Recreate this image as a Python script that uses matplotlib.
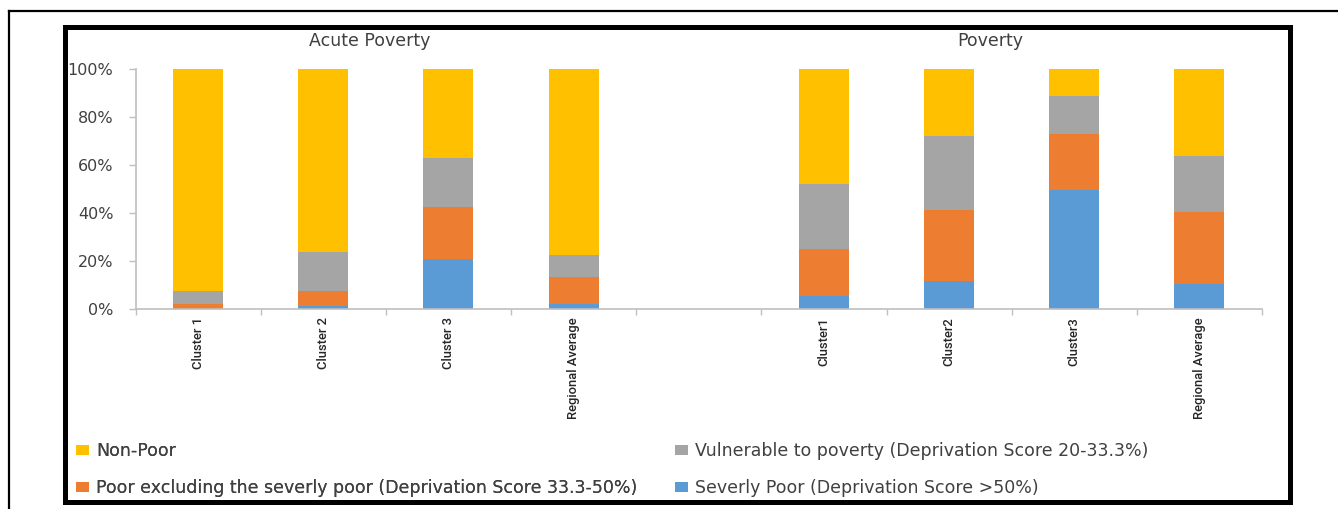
import numpy as np
import matplotlib
matplotlib.use("Agg")
import matplotlib.pyplot as plt
from matplotlib.patches import Patch, Rectangle
from matplotlib.lines import Line2D
from matplotlib.ticker import FuncFormatter, FixedLocator
import matplotlib.transforms as mtransforms

# ---------------- data ----------------
acute_title = "Acute Poverty"
poverty_title = "Poverty"
acute_cats = ["Cluster 1", "Cluster 2", "Cluster 3", "Regional Average"]
pov_cats = ["Cluster1", "Cluster2", "Cluster3", "Regional Average"]

series_names = [
    "Severly Poor (Deprivation Score >50%)",
    "Poor excluding the severly poor (Deprivation Score 33.3-50%)",
    "Vulnerable to poverty (Deprivation Score 20-33.3%)",
    "Non-Poor",
]
acute_severe = [0.0, 1.2, 20.7, 1.9]
acute_poor = [1.9, 6.2, 21.5, 11.2]
acute_vuln = [5.5, 16.4, 20.7, 9.4]
acute_nonpoor = [92.6, 76.2, 37.1, 77.5]

pov_severe = [5.1, 11.4, 49.6, 10.4]
pov_poor = [19.6, 29.6, 23.0, 29.9]
pov_vuln = [27.1, 31.1, 15.9, 23.2]
pov_nonpoor = [48.2, 27.9, 11.5, 36.5]

yticks = [0, 20, 40, 60, 80, 100]

# ---------------- style ----------------
colors = ["#5B9BD5", "#ED7D31", "#A5A5A5", "#FFC000"]
txt_color = "#404040"
axis_color = "#BFBFBF"

W, H = 1338, 509
fig = plt.figure(figsize=(W / 100, H / 100), dpi=100)
fig.patch.set_facecolor("white")

def fx(px):
    return px / W

def fy(py):
    return 1 - py / H

ax_left, ax_right, ax_top, ax_bot = 135.5, 1262, 68.7, 308.7
ax = fig.add_axes([fx(ax_left), fy(ax_bot), fx(ax_right - ax_left), (ax_bot - ax_top) / H])

n_a = len(acute_cats)
n_p = len(pov_cats)
x_a = np.arange(n_a)
x_p = np.arange(n_p) + n_a + 1
bw = 0.4

acute = [acute_severe, acute_poor, acute_vuln, acute_nonpoor]
pov = [pov_severe, pov_poor, pov_vuln, pov_nonpoor]
bot_a = np.zeros(n_a)
bot_p = np.zeros(n_p)
for vals_a, vals_p, c in zip(acute, pov, colors):
    ax.bar(x_a, vals_a, bw, bottom=bot_a, color=c, linewidth=0)
    ax.bar(x_p, vals_p, bw, bottom=bot_p, color=c, linewidth=0)
    bot_a += np.array(vals_a)
    bot_p += np.array(vals_p)

ntot = n_a + 1 + n_p
ax.set_xlim(-0.5, ntot - 0.5)
ax.set_ylim(0, 100)

for s in ["top", "right"]:
    ax.spines[s].set_visible(False)
for s in ["left", "bottom"]:
    ax.spines[s].set_color(axis_color)
    ax.spines[s].set_linewidth(1.2)

ax.set_yticks(yticks)
ax.yaxis.set_major_formatter(FuncFormatter(lambda v, p: f"{int(v)}%"))
ax.tick_params(axis="y", direction="out", length=5, width=1, color=axis_color,
               labelsize=11.5, labelcolor=txt_color, pad=11)

pos = list(x_a) + list(x_p)
labels = acute_cats + pov_cats
ax.xaxis.set_major_locator(FixedLocator(pos))
ax.set_xticklabels(labels, rotation=90, fontsize=9.4,
                   family=["Roboto", "Liberation Sans"], fontweight="medium",
                   color="#262626", va="top", ha="center")
ax.xaxis.set_minor_locator(FixedLocator(np.arange(-0.5, ntot, 1.0)))
ax.tick_params(axis="x", which="major", length=0, pad=6)
ax.tick_params(axis="x", which="minor", direction="out", length=4, width=1, color=axis_color)

# panel titles
trans = mtransforms.blended_transform_factory(ax.transData, fig.transFigure)
ax.text(1.37, fy(41), acute_title, transform=trans, ha="center", va="center",
        fontsize=12.5, color=txt_color)
ax.text(6.33, fy(41), poverty_title, transform=trans, ha="center", va="center",
        fontsize=12.5, color=txt_color)

# legend (two columns built as two legends)
h = [Patch(facecolor=c, edgecolor="none") for c in colors]
common = dict(loc="upper left", frameon=False, fontsize=12.5, handlelength=0.75,
              handleheight=0.5, handletextpad=0.4, labelspacing=1.08, borderpad=0,
              borderaxespad=0, labelcolor=txt_color)
leg1 = fig.legend([h[3], h[1]], [series_names[3], series_names[1]],
                  bbox_to_anchor=(fx(76), fy(442)), **common)
leg2 = fig.legend([h[2], h[0]], [series_names[2], series_names[0]],
                  bbox_to_anchor=(fx(675), fy(442)), **common)
fig.add_artist(leg1)

# frames
fig.add_artist(Line2D([fx(9), fx(W + 5)], [fy(10.5), fy(10.5)], color="black", lw=1.6,
                      transform=fig.transFigure))
fig.add_artist(Line2D([fx(9), fx(9)], [fy(10.5), fy(H + 5)], color="black", lw=1.6,
                      transform=fig.transFigure))
fig.add_artist(Rectangle((fx(64.5), fy(501.5)), fx(1289.5 - 64.5), (501.5 - 26.5) / H,
                         fill=False, edgecolor="black", lw=3.6, transform=fig.transFigure))

fig.savefig("out.png", dpi=100, facecolor="white")
